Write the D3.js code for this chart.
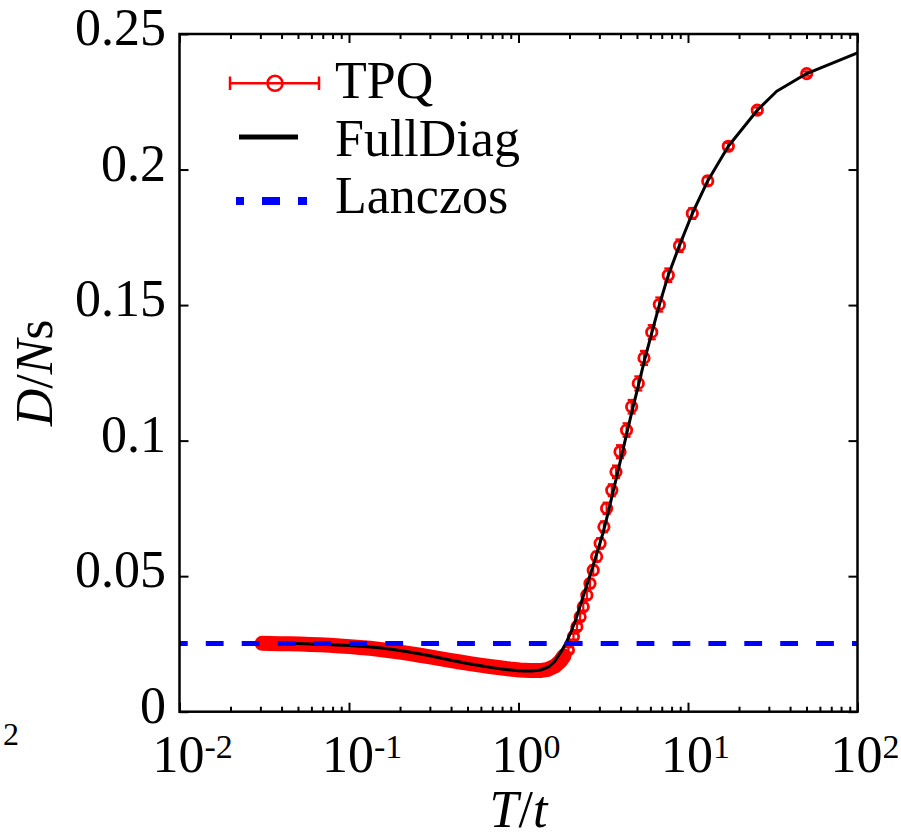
<!DOCTYPE html>
<html>
<head>
<meta charset="utf-8">
<script src="https://cdn.jsdelivr.net/npm/d3@7"></script>
<style>
  body { margin: 0; background: #fff; }
  svg text { font-family: "Liberation Serif", "Times New Roman", Times, serif; fill: #000; }
</style>
</head>
<body>
<svg id="chart" width="901" height="839" font-family="Liberation Serif, Times New Roman, serif"></svg>
<script>

// tick values and labels
var xTicks = [1e-2, 1e-1, 1, 10, 100];
var xTickExp = ["-2", "-1", "0", "1", "2"];
var yTicks = [0, 0.05, 0.1, 0.15, 0.2, 0.25];
var yTickLabels = ["0", "0.05", "0.1", "0.15", "0.2", "0.25"];

// TPQ, low temperature part (points so dense they merge into a band)
var tpqDenseT = [0.0307, 0.0342, 0.0392, 0.0449, 0.0514, 0.0589, 0.0674, 0.0772, 0.0885, 0.1014,
                 0.1161, 0.1330, 0.1524, 0.1745, 0.1999, 0.2290, 0.2623, 0.3005, 0.3442, 0.3943,
                 0.4517, 0.5174, 0.5927, 0.6789, 0.7777, 0.8910, 1.020, 1.169, 1.339, 1.493,
                 1.642, 1.757, 1.855];
var tpqDenseD = [0.02522, 0.02518, 0.02511, 0.02504, 0.02493, 0.02482, 0.02467, 0.02448, 0.02426, 0.02400,
                 0.02371, 0.02338, 0.02297, 0.02249, 0.02198, 0.02142, 0.02083, 0.02021, 0.01958, 0.01895,
                 0.01833, 0.01774, 0.01718, 0.01667, 0.01619, 0.01574, 0.01538, 0.01516, 0.01516, 0.01563,
                 0.01685, 0.01851, 0.02054];

// TPQ, separate points with error bars
var tpqT = [1.97, 2.11, 2.21, 2.31, 2.41, 2.53, 2.64, 2.76, 2.89, 3.03,
            3.19, 3.31, 3.55, 3.76, 3.97, 4.34, 4.65, 5.09, 5.50, 6.11,
            6.77, 7.65, 8.91, 10.60, 13.07, 17.29, 25.63, 50.15];
var tpqD = [0.0228, 0.0277, 0.0313, 0.0350, 0.0387, 0.0430, 0.0473, 0.0522, 0.0572, 0.0621,
            0.0682, 0.0750, 0.0817, 0.0885, 0.0959, 0.1039, 0.1125, 0.1211, 0.1305, 0.1400,
            0.1502, 0.1610, 0.1719, 0.1838, 0.1958, 0.2086, 0.2219, 0.2354];
var tpqErr = [0.0010, 0.0011, 0.0012, 0.0013, 0.0014, 0.0015, 0.0016, 0.0017, 0.0018, 0.0019,
              0.0020, 0.0021, 0.0022, 0.0023, 0.0024, 0.0025, 0.0025, 0.0026, 0.0026, 0.0026,
              0.0026, 0.0025, 0.0023, 0.0020, 0.0016, 0.0012, 0.0010, 0.0008];

// full diagonalization
var fullT = [0.0449, 0.0597, 0.0804, 0.1000, 0.1294, 0.1609, 0.2000, 0.2502, 0.3005, 0.3997,
             0.5001, 0.6009, 0.6979, 0.7993, 0.903, 1.000, 1.100, 1.201, 1.350, 1.501,
             1.642, 1.781, 1.906, 2.040, 2.184, 2.402, 2.751, 3.151, 3.373, 3.610,
             3.864, 4.136, 4.426, 4.738, 5.105, 5.501, 6.107, 6.771, 7.652, 8.887,
             10.60, 13.07, 17.29, 25.63, 33.37, 50.15, 100];
var fullD = [0.02522, 0.02496, 0.02467, 0.02441, 0.02397, 0.02338, 0.02257, 0.02153, 0.02061, 0.01899,
             0.01777, 0.01692, 0.01626, 0.01578, 0.01538, 0.01508, 0.01501, 0.01501, 0.01538, 0.01648,
             0.01869, 0.02201, 0.02533, 0.02939, 0.03418, 0.04229, 0.05373, 0.06589, 0.07327, 0.08101,
             0.08876, 0.09668, 0.10461, 0.11235, 0.12046, 0.12895, 0.13964, 0.14996, 0.16103, 0.17183,
             0.18378, 0.19580, 0.20859, 0.22187, 0.22887, 0.23540, 0.2430];

// Lanczos ground state value
var lanczosD = 0.0252;

var legendNames = ["TPQ", "FullDiag", "Lanczos"];

var svg = d3.select("#chart");

var x = d3.scaleLog().domain([1e-2, 1e2]).range([179.5, 857.5]);
var y = d3.scaleLinear().domain([0, 0.25]).range([711.7, 34]);

var dense = tpqDenseT.map(function(t, i) { return {t: t, d: tpqDenseD[i]}; });
var sparse = tpqT.map(function(t, i) { return {t: t, d: tpqD[i], e: tpqErr[i]}; });
var full = fullT.map(function(t, i) { return {t: t, d: fullD[i]}; });

var line = d3.line()
    .x(function(p) { return x(p.t); })
    .y(function(p) { return y(p.d); });

// TPQ markers overlap at low T, draw them as one thick band
svg.append("path")
    .datum(dense)
    .attr("d", line)
    .attr("fill", "none")
    .attr("stroke", "#ff0000")
    .attr("stroke-width", 15)
    .attr("stroke-linecap", "round")
    .attr("stroke-linejoin", "round");

// error bars
var eb = svg.append("g").attr("stroke", "#ff0000").attr("stroke-width", 2.2);
sparse.forEach(function(p) {
    var cx = x(p.t), y0 = y(p.d - p.e), y1 = y(p.d + p.e);
    eb.append("line").attr("x1", cx).attr("x2", cx).attr("y1", y0).attr("y2", y1);
    eb.append("line").attr("x1", cx - 4).attr("x2", cx + 4).attr("y1", y0).attr("y2", y0);
    eb.append("line").attr("x1", cx - 4).attr("x2", cx + 4).attr("y1", y1).attr("y2", y1);
});

svg.append("g").selectAll("circle")
    .data(dense.concat(sparse))
    .enter()
    .append("circle")
    .attr("cx", function(p) { return x(p.t); })
    .attr("cy", function(p) { return y(p.d); })
    .attr("r", 5.2)
    .attr("fill", "none")
    .attr("stroke", "#ff0000")
    .attr("stroke-width", 2.8);

// FullDiag
svg.append("path")
    .datum(full)
    .attr("d", line)
    .attr("fill", "none")
    .attr("stroke", "#000")
    .attr("stroke-width", 3)
    .attr("stroke-linejoin", "round");

// Lanczos
svg.append("line")
    .attr("x1", x(1e-2)).attr("x2", x(1e2))
    .attr("y1", y(lanczosD)).attr("y2", y(lanczosD))
    .attr("stroke", "#0000ff")
    .attr("stroke-width", 5)
    .attr("stroke-dasharray", "17.8,18.1")
    .attr("stroke-dashoffset", 9.6);

// minor ticks for the log axis
var xMinor = [];
xTicks.slice(0, -1).forEach(function(t) {
    for (var k = 2; k < 10; k++) xMinor.push(t * k);
});

function ticks(axis, tr, vals, len) {
    var g = svg.append("g")
        .attr("transform", tr)
        .call(axis.tickValues(vals).tickSize(-len).tickFormat(""));
    g.select(".domain").remove();
    g.selectAll(".tick line").attr("stroke-width", 2);
}
ticks(d3.axisBottom(x), "translate(0,711.7)", xTicks, 9);
ticks(d3.axisBottom(x), "translate(0,711.7)", xMinor, 5);
ticks(d3.axisTop(x), "translate(0,34)", xTicks, 9);
ticks(d3.axisTop(x), "translate(0,34)", xMinor, 5);
ticks(d3.axisLeft(y), "translate(179.5,0)", yTicks, 9);
ticks(d3.axisRight(y), "translate(857.5,0)", yTicks, 9);

// frame
svg.append("rect")
    .attr("x", 179.5).attr("y", 34)
    .attr("width", 678).attr("height", 677.7)
    .attr("fill", "none")
    .attr("stroke", "#000")
    .attr("stroke-width", 2.5);

var serif = "Liberation Serif, Times New Roman, serif";

// tick labels
yTicks.forEach(function(v, i) {
    svg.append("text")
        .attr("x", 166)
        .attr("y", y(v) + 11)
        .attr("text-anchor", "end")
        .attr("font-family", serif)
        .attr("font-size", 52)
        .text(yTickLabels[i]);
});

xTicks.forEach(function(v, i) {
    var t = svg.append("text")
        .attr("x", x(v) - 27)
        .attr("y", 772)
        .attr("font-family", serif)
        .attr("font-size", 52);
    t.append("tspan").text("10");
    t.append("tspan").attr("font-size", 34).attr("dy", -14).text(xTickExp[i]);
});

// stray superscript that wrapped to the left edge
svg.append("text")
    .attr("x", 3).attr("y", 745)
    .attr("font-family", serif)
    .attr("font-size", 32)
    .text("2");

// axis titles
var xl = svg.append("text")
    .attr("x", (x.range()[0] + x.range()[1]) / 2)
    .attr("y", 827)
    .attr("text-anchor", "middle")
    .attr("font-family", serif)
    .attr("font-size", 52);
xl.append("tspan").attr("font-style", "italic").text("T");
xl.append("tspan").text("/");
xl.append("tspan").attr("font-style", "italic").text("t");

var yl = svg.append("text")
    .attr("transform", "translate(52," + (y.range()[0] + y.range()[1]) / 2 + ") rotate(-90)")
    .attr("text-anchor", "middle")
    .attr("font-family", serif)
    .attr("font-size", 52);
yl.append("tspan").attr("font-style", "italic").text("D");
yl.append("tspan").text("/");
yl.append("tspan").attr("font-style", "italic").text("N");
yl.append("tspan").text("s");

// legend
var lg = svg.append("g");
lg.append("line").attr("x1", 230).attr("x2", 319).attr("y1", 83.3).attr("y2", 83.3)
    .attr("stroke", "#ff0000").attr("stroke-width", 2.5);
[230, 319].forEach(function(cx) {
    lg.append("line").attr("x1", cx).attr("x2", cx).attr("y1", 76.5).attr("y2", 90)
        .attr("stroke", "#ff0000").attr("stroke-width", 2.5);
});
lg.append("circle").attr("cx", 275).attr("cy", 83.3).attr("r", 7.5)
    .attr("fill", "none").attr("stroke", "#ff0000").attr("stroke-width", 2.5);

lg.append("line").attr("x1", 239).attr("x2", 298).attr("y1", 137).attr("y2", 137)
    .attr("stroke", "#000").attr("stroke-width", 5);

lg.append("line").attr("x1", 236).attr("x2", 307).attr("y1", 201).attr("y2", 201)
    .attr("stroke", "#0000ff").attr("stroke-width", 8)
    .attr("stroke-dasharray", "18,18").attr("stroke-dashoffset", 10);

legendNames.forEach(function(name, i) {
    lg.append("text")
        .attr("x", 335)
        .attr("y", [98, 155.5, 213][i])
        .attr("font-family", serif)
        .attr("font-size", 52)
        .text(name);
});
</script>
</body>
</html>
